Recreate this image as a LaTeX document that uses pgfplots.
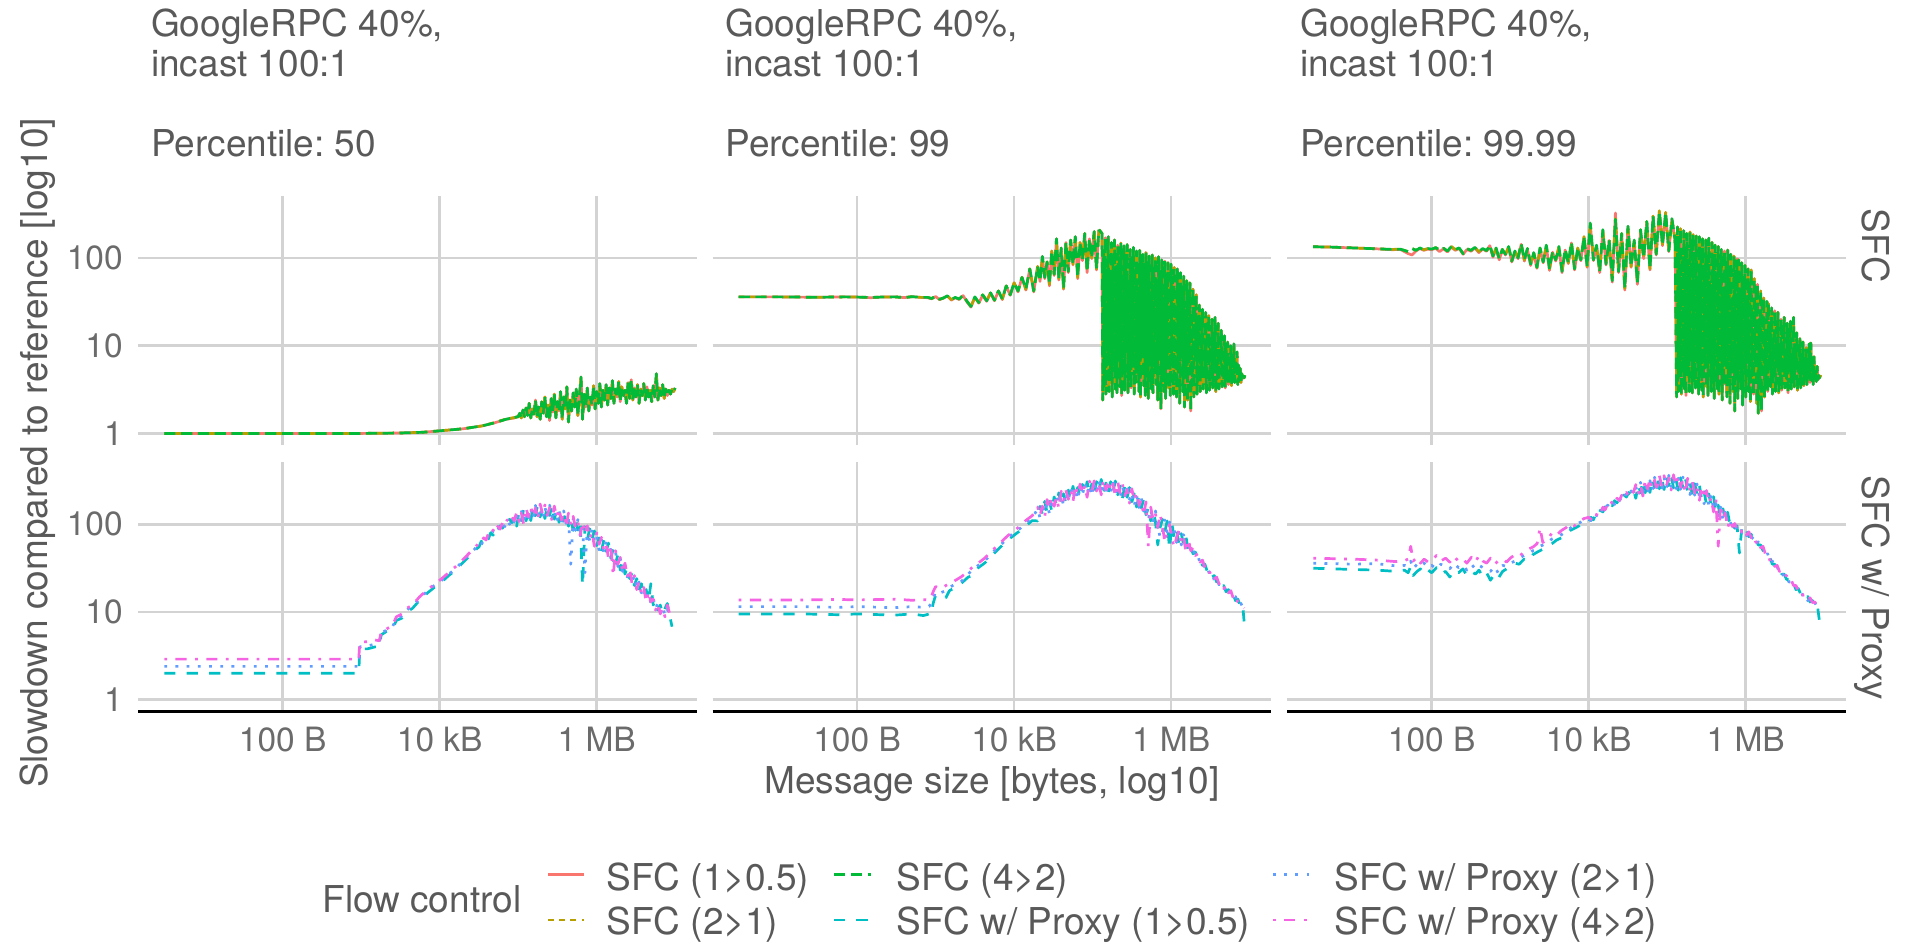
\documentclass[border=0pt]{standalone}
\usepackage{pgfplots}
\pgfplotsset{compat=1.18}
\usepackage{pgfplotstable}
\usepackage{fontspec}
\setmainfont{TeX Gyre Heros}
\definecolor{cR}{HTML}{F8766D}
\definecolor{cO}{HTML}{B79F00}
\definecolor{cG}{HTML}{00BA38}
\definecolor{cC}{HTML}{00BFC4}
\definecolor{cB}{HTML}{619CFF}
\definecolor{cP}{HTML}{F564E3}
\definecolor{gridc}{HTML}{D3D3D3}
\definecolor{txt}{HTML}{595959}
\definecolor{tickc}{HTML}{6B6B6B}

% ================= data =================
% ---- Percentile 50, SFC
\pgfplotstableread[row sep=\\]{
x r o g\\
3.1 1 1 1\\ 10 1 1 1\\ 100 1 1 1\\ 1000 1 1 1\\ 3000 1.01 1.01 1.01\\ 6000 1.03 1.03 1.03\\
1e4 1.07 1.07 1.07\\ 2e4 1.13 1.13 1.13\\ 3.5e4 1.22 1.22 1.22\\ 5e4 1.32 1.33 1.32\\
7e4 1.45 1.46 1.45\\ 9e4 1.5 1.52 1.52\\
}\ponetopA
\pgfplotstableread[row sep=\\]{
x g\\
9e4 1.52\\ 1.000e5 1.55\\ 1.047e5 1.70\\ 1.096e5 1.50\\ 1.148e5 1.85\\ 1.202e5 1.55\\ 1.259e5 1.95\\
1.318e5 1.60\\ 1.380e5 2.20\\ 1.445e5 1.50\\ 1.514e5 1.90\\ 1.585e5 1.65\\ 1.660e5 2.40\\
1.738e5 1.55\\ 1.820e5 2.00\\ 1.905e5 1.45\\ 1.995e5 2.30\\ 2.089e5 1.70\\ 2.188e5 2.60\\
2.291e5 1.55\\ 2.399e5 2.10\\ 2.512e5 1.40\\ 2.630e5 2.50\\ 2.754e5 1.75\\ 2.884e5 2.80\\
3.020e5 1.50\\ 3.162e5 2.30\\ 3.311e5 1.80\\ 3.467e5 3.00\\ 3.631e5 1.45\\ 3.802e5 2.60\\
3.981e5 1.90\\ 4.169e5 3.40\\ 4.365e5 1.35\\ 4.571e5 2.40\\ 4.786e5 1.80\\ 5.012e5 2.90\\
5.248e5 2.00\\ 5.495e5 3.20\\ 5.754e5 1.60\\ 6.026e5 2.70\\ 6.310e5 4.40\\ 6.607e5 1.45\\
6.918e5 2.80\\ 7.244e5 2.00\\ 7.586e5 3.30\\ 7.943e5 1.80\\ 8.318e5 2.60\\ 8.710e5 2.10\\
9.120e5 3.50\\ 9.550e5 1.90\\ 1.000e6 3.00\\ 1.047e6 2.20\\ 1.096e6 3.70\\ 1.148e6 2.00\\
1.202e6 3.10\\ 1.259e6 2.40\\ 1.318e6 3.60\\ 1.380e6 2.10\\ 1.445e6 3.30\\ 1.514e6 2.50\\
1.585e6 4.00\\ 1.660e6 2.20\\ 1.738e6 3.20\\ 1.820e6 2.60\\ 1.905e6 3.90\\ 1.995e6 2.30\\
2.089e6 3.40\\ 2.188e6 2.70\\ 2.291e6 3.10\\ 2.399e6 2.20\\ 2.512e6 3.80\\ 2.630e6 2.50\\
2.754e6 4.10\\ 2.884e6 2.40\\ 3.020e6 3.30\\ 3.162e6 2.60\\ 3.311e6 3.60\\ 3.467e6 2.20\\
3.631e6 3.20\\ 3.802e6 2.70\\ 3.981e6 3.70\\ 4.169e6 2.40\\ 4.365e6 3.40\\ 4.571e6 2.60\\
4.786e6 3.10\\ 5.012e6 2.30\\ 5.248e6 3.50\\ 5.495e6 2.60\\ 5.754e6 4.80\\ 6.026e6 2.40\\
6.310e6 3.30\\ 6.607e6 2.70\\ 6.918e6 3.60\\ 7.244e6 2.50\\ 7.586e6 3.20\\ 7.943e6 2.70\\
8.318e6 3.10\\ 8.710e6 2.80\\ 9.120e6 3.20\\ 9.550e6 3.00\\ 1.000e7 3.30\\
}\ponetopB

% ---- Percentile 99, SFC
\pgfplotstableread[row sep=\\]{
x r o g\\
3.1 36 36 36\\ 10 36 36 36\\ 30 35.6 35.6 35.6\\ 70 36 36 36\\ 100 35.8 35.8 35.8\\
150 35.2 35.4 35.4\\ 200 35.8 35.8 35.8\\ 300 36 36 36\\ 400 35.3 35.3 35.3\\ 500 36.2 36.2 36.2\\
650 35.5 35.5 35.5\\ 794 35.2 35.5 35.5\\ 891 34.2 34.5 34.5\\ 1000 36.3 36.5 36.5\\ 1122 33.5 33.8 33.8\\
1259 34.8 35 35\\ 1413 36.8 37 37\\ 1585 33 33.5 33.5\\ 1778 35.2 35.5 35.5\\ 1995 33.6 34 34\\
2239 37.2 37.5 37.5\\ 2512 31.5 32 32\\ 2818 27.5 28 28\\ 3162 35.5 36 36\\ 3548 30.5 31 31\\
3981 37.5 38 38\\ 4467 32 32.5 32.5\\ 5012 40 40 40\\ 5623 32.5 33 33\\ 6310 42 42 42\\
7079 33.5 34 34\\ 7943 48 48 48\\ 8913 37.5 38 38\\ 1e4 52 52 52\\ 1.122e4 41 42 42\\
1.259e4 60 60 60\\ 1.413e4 43 44 44\\ 1.585e4 75 75 75\\ 1.778e4 41 42 42\\ 1.995e4 80 80 80\\
2.138e4 54 55 55\\ 2.291e4 104 104 104\\ 2.455e4 58 60 60\\ 2.630e4 90 90 90\\ 2.818e4 48 50 50\\
3.020e4 120 120 120\\ 3.236e4 63 65 65\\ 3.467e4 165 165 165\\ 3.715e4 56 58 58\\ 3.981e4 130 130 130\\
4.266e4 44 45 45\\ 4.571e4 150 150 150\\ 4.898e4 68 70 70\\ 5.248e4 160 160 160\\ 5.623e4 83 85 85\\
6.026e4 175 175 175\\ 6.457e4 58 60 60\\ 6.918e4 150 150 150\\ 7.413e4 93 95 95\\ 7.943e4 190 190 190\\
8.511e4 68 70 70\\ 9.120e4 165 165 165\\ 9.772e4 98 100 100\\ 1.047e5 200 200 200\\ 1.122e5 73 75 75\\
1.202e5 210 210 210\\
}\ptwotopA
\pgfplotstableread[row sep=\\]{
x g\\
1.202e5 210\\
1.318e5 190\\ 1.349e5 2.4\\ 1.380e5 120\\ 1.413e5 3.5\\ 1.445e5 170\\ 1.479e5 2.8\\ 1.514e5 95\\ 1.549e5 6.0\\
1.585e5 175\\ 1.622e5 3.0\\ 1.660e5 60\\ 1.698e5 4.2\\ 1.738e5 150\\ 1.778e5 2.6\\ 1.820e5 110\\ 1.862e5 5.5\\
1.905e5 160\\ 1.950e5 3.2\\ 1.995e5 80\\ 2.042e5 2.9\\ 2.089e5 140\\ 2.138e5 7.5\\ 2.188e5 100\\ 2.239e5 3.4\\
2.291e5 148\\ 2.344e5 2.7\\ 2.399e5 65\\ 2.455e5 4.8\\ 2.512e5 138\\ 2.570e5 3.1\\ 2.630e5 90\\ 2.692e5 9.0\\
2.754e5 142\\ 2.818e5 2.9\\ 2.884e5 55\\ 2.951e5 4.0\\ 3.020e5 125\\ 3.090e5 3.3\\ 3.162e5 100\\ 3.236e5 6.5\\
3.311e5 132\\ 3.388e5 2.8\\ 3.467e5 75\\ 3.548e5 3.8\\ 3.631e5 120\\ 3.715e5 5.0\\ 3.802e5 45\\ 3.890e5 3.0\\
3.981e5 122\\ 4.074e5 2.6\\ 4.169e5 95\\ 4.266e5 8.0\\ 4.365e5 110\\ 4.467e5 3.5\\ 4.571e5 70\\ 4.677e5 2.7\\
4.786e5 115\\ 4.898e5 4.5\\ 5.012e5 85\\ 5.129e5 2.5\\ 5.248e5 105\\ 5.370e5 6.0\\ 5.495e5 40\\ 5.623e5 3.2\\
5.754e5 108\\ 5.888e5 2.9\\ 6.026e5 80\\ 6.166e5 5.0\\ 6.310e5 100\\ 6.457e5 3.6\\ 6.607e5 55\\ 6.761e5 2.4\\
6.918e5 103\\ 7.079e5 7.0\\ 7.244e5 70\\ 7.413e5 1.9\\ 7.586e5 95\\ 7.762e5 4.0\\ 7.943e5 35\\ 8.128e5 3.0\\
8.318e5 92\\ 8.511e5 2.5\\ 8.710e5 65\\ 8.913e5 5.5\\ 9.120e5 88\\ 9.333e5 3.3\\ 9.550e5 45\\ 9.772e5 2.7\\
1.000e6 85\\ 1.023e6 6.0\\ 1.047e6 60\\ 1.072e6 2.8\\ 1.096e6 78\\ 1.122e6 4.2\\ 1.148e6 30\\ 1.175e6 2.6\\
1.202e6 75\\ 1.230e6 5.0\\ 1.259e6 50\\ 1.288e6 2.2\\ 1.318e6 68\\ 1.349e6 8.0\\ 1.380e6 40\\ 1.413e6 3.0\\
1.445e6 62\\ 1.479e6 2.0\\ 1.514e6 25\\ 1.549e6 4.5\\ 1.585e6 55\\ 1.622e6 2.4\\ 1.660e6 42\\ 1.698e6 6.5\\
1.738e6 52\\ 1.778e6 1.8\\ 1.820e6 20\\ 1.862e6 3.5\\ 1.905e6 44\\ 1.950e6 2.6\\ 1.995e6 35\\ 2.042e6 7.0\\
2.089e6 38\\ 2.138e6 2.8\\ 2.188e6 16\\ 2.239e6 4.0\\ 2.291e6 29\\ 2.344e6 3.0\\ 2.399e6 22\\ 2.455e6 5.5\\
2.512e6 26\\ 2.570e6 3.2\\ 2.630e6 12\\ 2.692e6 4.5\\ 2.754e6 24\\ 2.818e6 2.9\\ 2.884e6 18\\ 2.951e6 6.0\\
3.020e6 22\\ 3.090e6 3.1\\ 3.162e6 10\\ 3.236e6 4.0\\ 3.311e6 20\\ 3.388e6 3.3\\ 3.467e6 14\\ 3.548e6 5.0\\
3.631e6 21\\ 3.715e6 3.0\\ 3.802e6 9.0\\ 3.890e6 4.2\\ 3.981e6 18\\ 4.074e6 3.2\\ 4.169e6 12\\ 4.266e6 6.0\\
4.365e6 15\\ 4.467e6 3.4\\ 4.571e6 8.0\\ 4.677e6 4.0\\ 4.786e6 13\\ 4.898e6 3.3\\ 5.012e6 9.5\\ 5.129e6 5.0\\
5.248e6 11\\ 5.370e6 3.6\\ 5.495e6 7.0\\ 5.623e6 4.2\\ 5.754e6 10\\ 5.888e6 3.5\\ 6.026e6 6.5\\ 6.166e6 4.4\\
6.310e6 10.5\\ 6.457e6 3.8\\ 6.607e6 7.0\\ 6.761e6 4.5\\ 6.918e6 8.5\\ 7.079e6 3.6\\ 7.244e6 6.0\\ 7.413e6 4.0\\
7.586e6 5.5\\ 7.762e6 3.8\\ 7.943e6 4.8\\ 8.128e6 4.2\\ 8.318e6 4.5\\ 8.511e6 4.3\\ 8.710e6 4.6\\
}\ptwotopB

% ---- Percentile 99.99, SFC
\pgfplotstableread[row sep=\\]{
x r o g\\
3.09 134 134 134\\ 5.01 133 133 133\\ 7.94 131 131 131\\ 12.59 129 129 129\\ 19.95 127 127 127\\
31.62 124 125 125\\ 39.81 125 126 126\\ 50.12 112 118 118\\ 56.23 108 128 128\\ 63.1 120 122 122\\
70.8 128 130 130\\ 79.4 122 124 124\\ 89.1 126 128 128\\ 100 124 126 126\\ 112.2 129 131 131\\
125.9 118 123 123\\ 141.3 127 129 129\\ 158.5 117 120 120\\ 177.8 133 135 135\\ 199.5 122 125 125\\
223.9 128 130 130\\ 251.2 110 112 112\\ 281.8 125 127 127\\ 316.2 119 122 122\\ 354.8 130 132 132\\
398.1 115 118 118\\ 446.7 126 128 128\\ 501.2 119 121 121\\ 549.5 138 140 140\\ 602.6 102 105 105\\
660.7 128 130 130\\ 724.4 95 98 98\\ 794.3 123 125 125\\ 871 108 110 110\\ 955 133 135 135\\
1047 90 92 92\\ 1148 118 120 120\\ 1259 98 100 100\\ 1380 143 145 145\\ 1514 92 95 95\\
1660 126 128 128\\ 1820 82 85 85\\ 1995 113 115 115\\ 2188 76 78 78\\ 2399 128 130 130\\
2630 88 90 90\\ 2884 138 140 140\\ 3162 72 75 75\\ 3467 116 118 118\\ 3802 92 95 95\\
4169 133 135 135\\ 4571 68 70 70\\ 5012 123 125 125\\ 5495 86 88 88\\ 6026 148 150 150\\
6607 73 75 75\\ 7244 128 130 130\\ 7943 93 95 95\\ 8710 173 175 175\\ 9550 78 80 80\\
1.047e4 245 250 250\\ 1.148e4 93 95 95\\ 1.259e4 138 140 140\\ 1.380e4 68 70 70\\ 1.514e4 205 210 210\\
1.660e4 83 85 85\\ 1.820e4 158 160 160\\ 1.995e4 53 55 55\\ 2.188e4 325 280 275\\ 2.399e4 68 70 70\\
2.630e4 188 190 190\\ 2.884e4 43 45 45\\ 3.162e4 228 230 230\\ 3.467e4 78 80 80\\ 3.802e4 158 160 160\\
4.169e4 50 52 52\\ 4.571e4 208 210 210\\ 5.012e4 98 100 100\\ 5.495e4 258 260 260\\ 6.026e4 73 75 75\\
6.607e4 298 300 300\\ 7.244e4 108 110 110\\ 7.943e4 335 345 340\\ 8.710e4 138 140 140\\ 9.550e4 330 330 330\\
1.047e5 118 120 120\\ 1.148e5 278 280 280\\ 1.259e5 158 160 160\\
}\pthreetopA
\pgfplotstableread[row sep=\\]{
x g\\
1.259e5 160\\
1.318e5 2.6\\ 1.349e5 225\\ 1.380e5 3.0\\ 1.413e5 150\\ 1.445e5 4.5\\ 1.479e5 215\\ 1.514e5 2.8\\ 1.549e5 100\\
1.585e5 6.0\\ 1.622e5 205\\ 1.660e5 3.2\\ 1.698e5 130\\ 1.738e5 2.7\\ 1.778e5 190\\ 1.820e5 5.0\\ 1.862e5 80\\
1.905e5 3.0\\ 1.950e5 198\\ 1.995e5 8.0\\ 2.042e5 140\\ 2.089e5 2.9\\ 2.138e5 185\\ 2.188e5 4.0\\ 2.239e5 95\\
2.291e5 3.3\\ 2.344e5 178\\ 2.399e5 6.5\\ 2.455e5 60\\ 2.512e5 2.8\\ 2.570e5 175\\ 2.630e5 4.5\\ 2.692e5 120\\
2.754e5 3.1\\ 2.818e5 165\\ 2.884e5 2.6\\ 2.951e5 75\\ 3.020e5 5.5\\ 3.090e5 160\\ 3.162e5 3.4\\ 3.236e5 110\\
3.311e5 2.7\\ 3.388e5 168\\ 3.467e5 7.0\\ 3.548e5 50\\ 3.631e5 3.0\\ 3.715e5 150\\ 3.802e5 4.2\\ 3.890e5 100\\
3.981e5 2.5\\ 4.074e5 140\\ 4.169e5 6.0\\ 4.266e5 65\\ 4.365e5 3.2\\ 4.467e5 135\\ 4.571e5 2.8\\ 4.677e5 90\\
4.786e5 5.0\\ 4.898e5 125\\ 5.012e5 2.4\\ 5.129e5 45\\ 5.248e5 3.6\\ 5.370e5 120\\ 5.495e5 7.5\\ 5.623e5 80\\
5.754e5 2.6\\ 5.888e5 123\\ 6.026e5 4.0\\ 6.166e5 60\\ 6.310e5 2.2\\ 6.457e5 110\\ 6.607e5 5.5\\ 6.761e5 35\\
6.918e5 3.0\\ 7.079e5 105\\ 7.244e5 1.8\\ 7.413e5 70\\ 7.586e5 4.5\\ 7.762e5 98\\ 7.943e5 2.5\\ 8.128e5 95\\
8.318e5 6.0\\ 8.511e5 40\\ 8.710e5 3.2\\ 8.913e5 88\\ 9.120e5 2.1\\ 9.333e5 60\\ 9.550e5 5.0\\ 9.772e5 82\\
1.000e6 2.6\\ 1.023e6 30\\ 1.047e6 7.0\\ 1.072e6 75\\ 1.096e6 3.0\\ 1.122e6 50\\ 1.148e6 2.3\\ 1.175e6 73\\
1.202e6 4.5\\ 1.230e6 25\\ 1.259e6 2.8\\ 1.288e6 58\\ 1.318e6 6.0\\ 1.349e6 40\\ 1.380e6 2.2\\ 1.413e6 50\\
1.445e6 1.7\\ 1.479e6 20\\ 1.514e6 3.5\\ 1.549e6 42\\ 1.585e6 1.8\\ 1.622e6 30\\ 1.660e6 5.0\\ 1.698e6 35\\
1.738e6 2.6\\ 1.778e6 15\\ 1.820e6 4.0\\ 1.862e6 32\\ 1.905e6 3.0\\ 1.950e6 30\\ 1.995e6 6.5\\ 2.042e6 18\\
2.089e6 3.4\\ 2.138e6 27\\ 2.188e6 2.8\\ 2.239e6 12\\ 2.291e6 4.5\\ 2.344e6 25\\ 2.399e6 3.0\\ 2.455e6 16\\
2.512e6 5.5\\ 2.570e6 24\\ 2.630e6 2.9\\ 2.692e6 10\\ 2.754e6 3.8\\ 2.818e6 20\\ 2.884e6 3.1\\ 2.951e6 14\\
3.020e6 6.0\\ 3.090e6 21\\ 3.162e6 3.3\\ 3.236e6 9.0\\ 3.311e6 4.2\\ 3.388e6 18\\ 3.467e6 2.9\\ 3.548e6 12\\
3.631e6 5.0\\ 3.715e6 19\\ 3.802e6 3.2\\ 3.890e6 8.0\\ 3.981e6 4.0\\ 4.074e6 21\\ 4.169e6 3.4\\ 4.266e6 10\\
4.365e6 5.5\\ 4.467e6 14\\ 4.571e6 3.1\\ 4.677e6 7.0\\ 4.786e6 4.4\\ 4.898e6 12\\ 5.012e6 3.3\\ 5.129e6 8.0\\
5.248e6 4.8\\ 5.370e6 11\\ 5.495e6 3.5\\ 5.623e6 6.5\\ 5.754e6 4.2\\ 5.888e6 9.5\\ 6.026e6 3.6\\ 6.166e6 7.0\\
6.310e6 4.5\\ 6.457e6 10.5\\ 6.607e6 3.8\\ 6.761e6 10.7\\ 6.918e6 4.0\\ 7.079e6 6.0\\ 7.244e6 3.6\\ 7.413e6 7.5\\
7.586e6 4.2\\ 7.762e6 5.0\\ 7.943e6 3.9\\ 8.128e6 5.8\\ 8.318e6 4.1\\ 8.511e6 4.6\\ 8.710e6 4.3\\ 8.913e6 4.5\\
9.120e6 4.4\\
}\pthreetopB

% ---- Percentile 50, SFC w/ Proxy
\pgfplotstableread[row sep=\\]{
x c b p\\
3.1 2.0 2.4 2.9\\ 930 2.0 2.4 2.9\\ 960 3.8 4.0 4.5\\ 1200 3.8 4.1 4.6\\ 1500 4.0 4.3 4.8\\
1700 4.0 4.5 4.7\\ 1800 5.5 5.8 6.0\\ 2100 6.0 6.2 6.4\\ 2500 6.3 6.8 7.0\\ 2800 8.0 8.3 8.8\\
3300 8.5 9.0 9.5\\ 3800 10.0 10.5 11.0\\ 4500 11.0 11.8 12.0\\ 5500 13.5 14.0 14.8\\ 7000 16.5 17.5 18.0\\
8500 19.0 20.0 20.5\\ 1e4 21 22 23\\ 1.3e4 26 27 28\\ 1.6e4 30 31 33\\ 2e4 37 39 40\\
2.5e4 45 47 49\\ 3e4 53 56 58\\
3.162e4 55 60 63\\ 3.388e4 64 58 62\\ 3.631e4 60 67 70\\ 3.890e4 70 64 66\\ 4.169e4 68 75 78\\
4.467e4 80 72 74\\ 4.786e4 75 84 86\\ 5.129e4 88 79 80\\ 5.495e4 82 92 95\\ 5.888e4 96 86 88\\
6.310e4 90 100 104\\ 6.761e4 106 94 97\\ 7.244e4 98 110 112\\ 7.762e4 114 100 104\\ 8.318e4 104 118 120\\
8.913e4 122 106 110\\
9.550e4 95 130 137\\ 1.023e5 137 101 107\\ 1.096e5 110 144 134\\ 1.175e5 150 110 100\\ 1.259e5 109 138 154\\
1.349e5 144 105 121\\ 1.445e5 110 150 158\\ 1.549e5 158 116 123\\ 1.660e5 125 164 153\\ 1.778e5 169 124 113\\
1.905e5 121 153 170\\ 2.042e5 156 114 131\\ 2.188e5 116 158 166\\ 2.344e5 161 119 126\\ 2.512e5 126 165 154\\
2.692e5 164 121 110\\ 2.884e5 114 145 161\\ 3.090e5 144 105 121\\ 3.311e5 105 143 151\\ 3.548e5 143 105 112\\
3.802e5 108 142 132\\ 4.074e5 139 102 93\\ 4.365e5 95 121 134\\ 4.677e5 119 35 99\\ 5.012e5 85 116 123\\
5.370e5 115 85 90\\ 5.754e5 86 113 106\\ 6.166e5 110 81 74\\ 6.607e5 20 95 106\\ 7.079e5 94 28 78\\
7.586e5 66 91 96\\ 8.128e5 89 65 69\\ 8.710e5 67 87 81\\ 9.333e5 84 62 56\\ 1.000e6 57 72 80\\
1.072e6 70 51 59\\ 1.148e6 49 67 71\\ 1.230e6 66 48 51\\ 1.318e6 49 64 59\\ 1.413e6 61 45 41\\
1.514e6 41 52 58\\
1.622e6 52 38 26\\ 1.738e6 36 48 50\\ 1.862e6 45 33 35\\
1.995e6 30 41 42\\ 2.138e6 39 29 28\\ 2.291e6 27 35 36\\ 2.455e6 33 25 25\\ 2.630e6 24 30 31\\
2.818e6 28 22 21\\ 3.020e6 20 26 26\\ 3.236e6 24 18.5 18\\ 3.467e6 17.5 22 22\\ 3.715e6 21 16.5 16\\
3.981e6 15 19 19\\ 4.266e6 18 14 13\\ 4.571e6 13.5 16.5 17\\ 4.898e6 21 12.5 13\\ 5.248e6 12 14.5 14\\
5.623e6 13.5 11 10.5\\ 6.026e6 10.5 12.5 12.5\\ 6.457e6 12 10 9.5\\ 6.918e6 9.5 11.5 11\\ 7.413e6 11 9.0 8.8\\
7.943e6 12.5 10.5 12\\ 8.511e6 9 10 9.5\\ 9.120e6 6.8 10.5 10.8\\
}\ponebot

% ---- Percentile 99, SFC w/ Proxy
\pgfplotstableread[row sep=\\]{
x c b p\\
3.1 9.5 11.5 13.7\\ 20 9.5 11.5 13.7\\ 60 9.3 11.3 13.9\\ 100 9.5 11.5 13.7\\ 300 9.2 11.2 14.0\\
500 9.5 11.5 13.6\\ 700 9.1 11.3 13.8\\ 830 9.5 11.6 13.7\\ 870 9.2 12.5 14.5\\ 930 12.5 14 17\\
1000 15.5 17 19.5\\ 1150 15.0 16.5 18.5\\ 1350 14.5 17.5 20\\ 1500 17.5 19 21\\ 1800 19 21 23\\
2100 21 22 25\\ 2600 25 27 29\\ 3000 26 31 33\\ 3500 32 34 36\\ 4200 36 38 41\\
5000 42 45 48\\ 6000 50 53 56\\ 7000 57 60 64\\ 8300 66 70 74\\ 1e4 75 80 84\\
1.2e4 85 90 96\\ 1.4e4 95 102 110\\ 1.7e4 110 118 125\\
1.995e4 109 149 157\\ 2.138e4 160 118 125\\ 2.291e4 131 172 161\\ 2.455e4 182 134 122\\ 2.630e4 135 172 191\\
2.818e4 182 132 152\\ 3.020e4 141 193 203\\ 3.236e4 205 151 160\\ 3.467e4 166 217 202\\ 3.715e4 228 167 152\\
3.981e4 168 214 238\\ 4.266e4 223 162 187\\ 4.571e4 171 233 245\\ 4.898e4 245 181 192\\ 5.248e4 198 260 242\\
5.623e4 271 199 181\\ 6.026e4 197 251 278\\ 6.457e4 262 190 219\\ 6.918e4 199 272 287\\ 7.413e4 285 211 223\\
7.943e4 225 295 275\\ 8.511e4 305 224 203\\ 9.120e4 219 279 310\\ 9.772e4 288 210 241\\ 1.047e5 216 296 312\\
1.122e5 306 226 239\\ 1.202e5 241 316 295\\ 1.288e5 324 238 216\\ 1.380e5 229 291 323\\ 1.479e5 295 214 247\\
1.585e5 220 300 316\\ 1.698e5 305 225 239\\ 1.820e5 236 309 288\\ 1.950e5 311 228 207\\ 2.089e5 216 274 305\\
2.239e5 273 198 228\\ 2.399e5 198 271 286\\ 2.570e5 270 200 212\\ 2.754e5 203 267 249\\ 2.951e5 262 192 174\\
3.162e5 180 229 254\\ 3.388e5 222 162 186\\ 3.631e5 157 215 227\\ 3.890e5 209 155 164\\ 4.169e5 153 201 187\\
4.467e5 192 141 128\\ 4.786e5 128 162 180\\ 5.129e5 156 114 56\\ 5.495e5 109 149 157\\ 5.888e5 144 106 113\\
6.310e5 108 142 132\\ 6.761e5 58 100 91\\ 7.244e5 92 70 130\\ 7.762e5 114 83 96\\ 8.318e5 82 112 62\\
8.913e5 109 81 86\\ 9.550e5 52 106 99\\ 1.023e6 102 75 68\\ 1.096e6 69 87 55\\ 1.175e6 85 62 71\\
1.259e6 59 81 85\\ 1.349e6 78 58 61\\ 1.445e6 58 76 70\\ 1.549e6 72 53 48\\ 1.660e6 48 60 67\\
1.778e6 55 49 50\\ 1.905e6 46 52 54\\ 2.042e6 48 43 44\\ 2.188e6 40 44 46\\ 2.344e6 40 36 37\\
2.512e6 34 38 39\\ 2.692e6 35 31 32\\ 2.884e6 29 32 33\\ 3.090e6 30 27 28\\ 3.311e6 25 28 29\\
3.548e6 26 23 24\\ 3.802e6 22 24.5 25\\ 4.074e6 23 20.5 21\\ 4.365e6 19 21 22\\ 4.677e6 20 18 18.5\\
5.012e6 17 19 20\\ 5.370e6 18 16 16.5\\ 5.754e6 15.5 17 17.5\\ 6.166e6 16 14.5 14.5\\ 6.607e6 13.5 15 15.5\\
7.079e6 14 12.5 13\\ 7.586e6 12 13 12.5\\ 8.128e6 12.5 11.5 11.5\\ 8.511e6 7.8 11 11\\
}\ptwobot

% ---- Percentile 99.99, SFC w/ Proxy
\pgfplotstableread[row sep=\\]{
x c b p\\
3.1 31.5 36 41\\ 10 30.5 35 40\\ 20 30 35.5 39\\ 35 29 33.5 37.5\\ 45 30 34 38.5\\
50 28 33 40\\ 54 33 38 56\\ 58 26 31 38\\ 65 29 35 42\\ 72 31 33 36\\
80 27 36 40\\ 90 30 32 37\\ 100 28 34 39\\ 115 32 31 44\\ 130 27 35 38\\
150 29 33 41\\ 170 25 31 37\\ 190 30 36 43\\ 220 28 32 38\\ 250 31 34 40\\
280 26 30 36\\ 320 29 35 42\\ 360 27 31 37\\ 400 30 34 44\\ 450 25 32 38\\
500 28 30 36\\ 560 23 29 41\\ 630 27 33 35\\ 700 24 28 38\\ 800 29 34 40\\
900 31 33 37\\ 1000 33 36 41\\ 1150 36 38 45\\ 1300 35 41 43\\ 1500 40 44 48\\
1700 38 46 52\\ 1950 45 50 55\\ 2200 48 52 60\\ 2400 50 56 91\\ 2600 52 58 62\\
3000 56 62 66\\ 3400 60 68 80\\ 3900 66 72 75\\ 4500 70 76 85\\ 5200 78 84 92\\
5800 85 90 102\\ 6600 90 98 96\\ 7600 96 104 108\\ 8700 104 110 116\\
1.000e4 105 115 120\\ 1.072e4 120 110 114\\ 1.148e4 112 125 130\\ 1.230e4 132 120 122\\ 1.318e4 124 138 142\\
1.413e4 145 130 134\\ 1.514e4 138 152 156\\ 1.622e4 158 144 146\\ 1.738e4 150 165 170\\ 1.862e4 172 156 160\\
1.995e4 162 178 184\\ 2.138e4 186 168 172\\ 2.291e4 175 192 198\\ 2.455e4 200 182 186\\ 2.630e4 190 208 214\\
2.818e4 215 196 200\\ 3.020e4 204 224 230\\ 3.236e4 230 210 214\\ 3.467e4 218 240 246\\ 3.715e4 248 226 230\\
3.981e4 197 269 283\\ 4.266e4 284 210 222\\ 4.571e4 229 300 279\\ 4.898e4 313 230 209\\ 5.248e4 228 289 322\\
5.623e4 301 219 252\\ 6.026e4 230 314 330\\ 6.457e4 329 243 257\\ 6.918e4 262 343 320\\ 7.413e4 354 260 236\\
7.943e4 253 322 358\\ 8.511e4 331 241 277\\ 9.120e4 248 339 358\\ 9.772e4 351 259 275\\ 1.047e5 275 361 337\\
1.122e5 367 269 245\\ 1.202e5 259 329 366\\ 1.288e5 332 242 278\\ 1.380e5 244 334 352\\ 1.479e5 338 250 265\\
1.585e5 263 345 321\\ 1.698e5 342 251 228\\ 1.820e5 236 300 334\\ 1.950e5 298 217 249\\ 2.089e5 215 293 309\\
2.239e5 290 214 227\\ 2.399e5 220 288 268\\ 2.570e5 281 206 187\\ 2.754e5 190 242 269\\ 2.951e5 235 171 197\\
3.162e5 168 230 242\\ 3.388e5 222 164 174\\ 3.631e5 164 215 200\\ 3.890e5 206 151 138\\ 4.169e5 136 173 192\\
4.467e5 165 120 56\\ 4.786e5 115 157 165\\ 5.129e5 150 111 117\\ 5.495e5 110 144 134\\ 5.888e5 137 100 91\\
6.310e5 98 108 112\\ 6.761e5 104 92 94\\ 7.244e5 90 99 102\\ 7.762e5 96 86 88\\ 8.318e5 47 92 94\\
8.913e5 90 80 82\\ 9.550e5 78 86 88\\ 1.023e6 84 74 76\\ 1.096e6 72 80 82\\ 1.175e6 77 68 70\\
1.259e6 66 72 74\\ 1.349e6 68 60 62\\ 1.445e6 58 63 65\\ 1.549e6 58 52 54\\ 1.660e6 50 54 56\\
1.778e6 49 44 46\\ 1.905e6 42 46 47\\ 2.042e6 41 37 38\\ 2.188e6 35 38 39\\ 2.344e6 35 32 33\\
2.512e6 30 33 34\\ 2.692e6 31 28 29\\ 2.884e6 27 29 30\\ 3.090e6 27 25 26\\ 3.311e6 23.5 25.5 26\\
3.548e6 23.5 22 22.5\\ 3.802e6 20.5 22 23\\ 4.074e6 21 19.5 20\\ 4.365e6 18 19.5 20\\ 4.677e6 18.5 17 17.5\\
5.012e6 16 17.5 18\\ 5.370e6 16.5 15 15.5\\ 5.754e6 14.5 15.5 16\\ 6.166e6 15 13.5 14\\ 6.607e6 13 14 14.5\\
7.079e6 13.5 12.3 12.8\\ 7.586e6 12 12.8 13\\ 8.128e6 12.5 11.5 11.8\\ 8.710e6 7.8 11 11.5\\
}\pthreebot

\pgfplotsset{
  every axis/.append style={
    width=279.2pt, height=124.5pt, scale only axis, anchor=south west,
    xmode=log, ymode=log,
    xmin=1.447, xmax=1.879e7, ymin=0.738, ymax=508,
    xtick={100,1e4,1e6}, ytick={1,10,100},
    grid=major, major grid style={gridc, line width=1.3pt},
    axis line style={draw=none},
    major tick length=0pt, tick style={draw=none},
    tick label style={font=\fontsize{16.75}{19}\selectfont, text=tickc},
    yticklabel style={anchor=east, inner sep=0pt, xshift=-7.6pt},
    xticklabel style={anchor=north, inner sep=0pt, yshift=-7.7pt},
  },
  every axis plot/.append style={line width=1.35pt, line join=round, line cap=butt},
}
\tikzset{
  sR/.style={cR, solid},
  sO/.style={cO, dash pattern=on 2.8pt off 2.8pt},
  sG/.style={cG, dash pattern=on 5.6pt off 2.8pt},
  sC/.style={cC, dash pattern=on 5.6pt off 5.6pt},
  sB/.style={cB, dash pattern=on 1.4pt off 4.2pt},
  sP/.style={cP, dash pattern=on 1.4pt off 4.2pt on 5.6pt off 4.2pt},
}

\begin{document}
\frenchspacing
\begin{tikzpicture}
\useasboundingbox (0,0) rectangle (958pt,472pt);

% ---------- top row: SFC ----------
\begin{axis}[at={(69.15pt,249.5pt)}, xticklabels={}, yticklabels={1,10,100}]
\addplot[sR, no markers] table[x=x,y=r] {\ponetopA};
\addplot[sR, no markers] table[x=x,y=g] {\ponetopB};
\addplot[sO, no markers] table[x=x,y=o] {\ponetopA};
\addplot[sO, no markers] table[x=x,y=g] {\ponetopB};
\addplot[sG, no markers] table[x=x,y=g] {\ponetopA};
\addplot[sG, no markers] table[x=x,y=g] {\ponetopB};
\end{axis}
\begin{axis}[at={(356.35pt,249.5pt)}, xticklabels={}, yticklabels={}]
\addplot[sR, no markers] table[x=x,y=r] {\ptwotopA};
\addplot[sR, no markers] table[x=x,y=g] {\ptwotopB};
\addplot[sO, no markers] table[x=x,y=o] {\ptwotopA};
\addplot[sO, no markers] table[x=x,y=g] {\ptwotopB};
\addplot[sG, no markers] table[x=x,y=g] {\ptwotopA};
\addplot[sG, no markers] table[x=x,y=g] {\ptwotopB};
\end{axis}
\begin{axis}[at={(643.65pt,249.5pt)}, xticklabels={}, yticklabels={}]
\addplot[sR, no markers] table[x=x,y=r] {\pthreetopA};
\addplot[sR, no markers] table[x=x,y=g] {\pthreetopB};
\addplot[sO, no markers] table[x=x,y=o] {\pthreetopA};
\addplot[sO, no markers] table[x=x,y=g] {\pthreetopB};
\addplot[sG, no markers] table[x=x,y=g] {\pthreetopA};
\addplot[sG, no markers] table[x=x,y=g] {\pthreetopB};
\end{axis}

% ---------- bottom row: SFC w/ Proxy ----------
\begin{axis}[at={(69.15pt,116.35pt)}, xticklabels={100 B,10 kB,1 MB}, yticklabels={1,10,100}]
\addplot[sC, no markers] table[x=x,y=c] {\ponebot};
\addplot[sB, no markers] table[x=x,y=b] {\ponebot};
\addplot[sP, no markers] table[x=x,y=p] {\ponebot};
\end{axis}
\begin{axis}[at={(356.35pt,116.35pt)}, xticklabels={100 B,10 kB,1 MB}, yticklabels={}]
\addplot[sC, no markers] table[x=x,y=c] {\ptwobot};
\addplot[sB, no markers] table[x=x,y=b] {\ptwobot};
\addplot[sP, no markers] table[x=x,y=p] {\ptwobot};
\end{axis}
\begin{axis}[at={(643.65pt,116.35pt)}, xticklabels={100 B,10 kB,1 MB}, yticklabels={}]
\addplot[sC, no markers] table[x=x,y=c] {\pthreebot};
\addplot[sB, no markers] table[x=x,y=b] {\pthreebot};
\addplot[sP, no markers] table[x=x,y=p] {\pthreebot};
\end{axis}

% black x axis lines of the bottom row
\draw[black, line width=1.4pt] (69.15pt,116.35pt) -- (348.35pt,116.35pt);
\draw[black, line width=1.4pt] (356.35pt,116.35pt) -- (635.55pt,116.35pt);
\draw[black, line width=1.4pt] (643.65pt,116.35pt) -- (922.85pt,116.35pt);

\begin{scope}[every node/.style={inner sep=0pt, text=txt, font=\fontsize{18.5}{22}\selectfont}]
% facet strips (top)
\foreach \xx/\pc in {75.4/50, 362.6/99, 649.9/99.99}{
  \node[anchor=base west] at (\xx pt,453.65pt) {GoogleRPC 40\%,};
  \node[anchor=base west] at (\xx pt,433.65pt) {incast 100:1};
  \node[anchor=base west] at (\xx pt,393.65pt) {Percentile: \pc};
}
% facet strips (right)
\node[rotate=-90, anchor=base west] at (931pt,367.75pt) {SFC};
\node[rotate=-90, anchor=base west] at (931pt,234.5pt) {SFC w/ Proxy};
% axis titles
\node[anchor=base] at (496pt,75.5pt) {Message size [bytes, log10]};
\node[rotate=90, anchor=base] at (23.5pt,245.5pt) {Slowdown compared to reference [log10]};
% legend
\node[anchor=base west] at (161pt,15.75pt) {Flow control};
\draw[cR, line width=1.35pt] (274pt,34.85pt) -- (292pt,34.85pt);
\draw[cO, line width=1.35pt, dash pattern=on 2.8pt off 2.8pt] (274pt,12pt) -- (292pt,12pt);
\draw[cG, line width=1.35pt, dash pattern=on 5.6pt off 2.8pt] (417pt,34.85pt) -- (435.5pt,34.85pt);
\draw[cC, line width=1.35pt, dash pattern=on 5.6pt off 5.6pt] (417pt,12pt) -- (435.5pt,12pt);
\draw[cB, line width=1.35pt, dash pattern=on 1.4pt off 4.2pt] (636.5pt,34.85pt) -- (654.5pt,34.85pt);
\draw[cP, line width=1.35pt, dash pattern=on 1.4pt off 4.2pt on 5.6pt off 4.2pt] (636.5pt,12pt) -- (654.5pt,12pt);
\node[anchor=base west] at (303pt,26.6pt) {SFC (1>0.5)};
\node[anchor=base west] at (303pt,4.9pt) {SFC (2>1)};
\node[anchor=base west] at (448pt,26.6pt) {SFC (4>2)};
\node[anchor=base west] at (448pt,4.9pt) {SFC w/ Proxy (1>0.5)};
\node[anchor=base west] at (667pt,26.6pt) {SFC w/ Proxy (2>1)};
\node[anchor=base west] at (667pt,4.9pt) {SFC w/ Proxy (4>2)};
\end{scope}
\end{tikzpicture}
\end{document}
